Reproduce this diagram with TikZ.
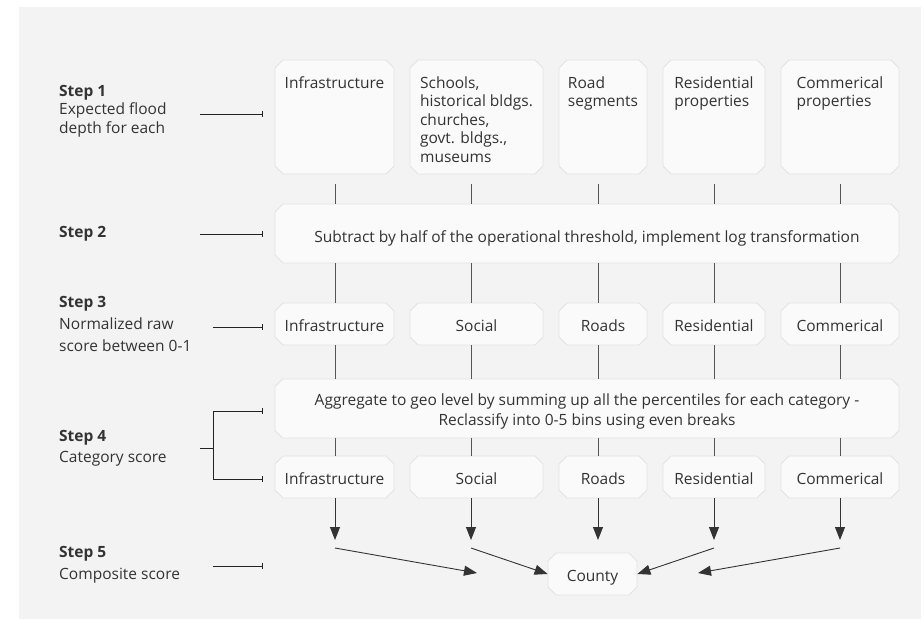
\documentclass[tikz,border=0pt]{standalone}
\usepackage{fontspec}
\setmainfont{Open Sans}
\usetikzlibrary{calc, arrows.meta, shapes.misc}
\definecolor{panel}{HTML}{F3F3F3}
\definecolor{boxfill}{HTML}{FAFAFA}
\definecolor{boxline}{HTML}{E2E2E2}
\definecolor{ink}{HTML}{333333}
\definecolor{linkgray}{HTML}{555555}
\definecolor{tickink}{HTML}{222222}
\newcommand{\rows}[1]{\begin{tabular}[t]{@{}l@{}}#1\end{tabular}}
\newcommand{\crows}[1]{\begin{tabular}[t]{@{}c@{}}#1\end{tabular}}

\begin{document}
\begin{tikzpicture}[x=1pt, y=-1pt,
  every node/.style={font=\fontsize{15.5}{18.5}\selectfont, text=ink, inner sep=0pt},
  box/.style={chamfered rectangle, chamfered rectangle xsep=4pt, chamfered rectangle ysep=4pt,
    draw=boxline, fill=boxfill, line width=0.8pt},
  tall/.style={box, minimum height=114pt, text height=0pt, text depth=58pt},
  flat/.style={box, minimum height=42pt, text height=14pt, text depth=0pt},
  wide/.style={box, minimum width=624pt, minimum height=59pt},
  steptext/.style={anchor=base west},
  link/.style={draw=linkgray, line width=0.9pt},
  arr/.style={draw=ink, line width=0.9pt, -{Triangle[length=13pt, width=10pt]}},
  tick/.style={draw=tickink, line width=0.9pt, -{Bar[width=5.5pt]}, shorten >=12pt},
  ]
\useasboundingbox (0,0) rectangle (924,619);
\fill[panel] (19,7) rectangle (921,619);

\node[tall, minimum width=119pt] (top1) at (334.5,117) {\rows{Infrastructure}};
\node[tall, minimum width=133pt] (top2) at (476.5,117) {\rows{Schools,\\historical bldgs.\\churches,\\govt. bldgs.,\\museums}};
\node[tall, minimum width=88pt] (top3) at (603,117) {\rows{Road\\segments}};
\node[tall, minimum width=102pt] (top4) at (714,117) {\rows{Residential\\properties}};
\node[tall, minimum width=118pt] (top5) at (840,117) {\rows{Commerical\\properties}};

\node[wide, text height=18pt, text depth=0pt] (sub) at (587,233.5)
  {Subtract by half of the operational threshold, implement log transformation};

\foreach \i/\x/\w/\t in {1/334.5/119/Infrastructure, 2/476.5/133/Social, 3/603/88/Roads,
    4/714/102/Residential, 5/840/118/Commerical}{
  \node[flat, minimum width=\w pt] (raw\i) at (\x,324) {\t};
  \node[flat, minimum width=\w pt] (cat\i) at (\x,477) {\t};
}

\node[wide, text height=0pt, text depth=7pt] (agg) at (587,408.5)
  {\crows{Aggregate to geo level by summing up all the percentiles for each category -\\[1.5pt]
  Reclassify into 0-5 bins using even breaks}};

\node[flat, minimum width=89pt] (county) at (592.5,574) {County};

\foreach \i/\x in {1/335, 2/471, 3/598, 4/714, 5/840}{
  \coordinate (c\i) at (\x,0);
  \coordinate (tip\i) at (\x,540);
  \coordinate (from\i) at (\x,548);
  \draw[link, shorten <=10pt] (c\i |- top\i.south) -- (c\i |- sub.north);
  \draw[link] (c\i |- sub.south) -- (c\i |- raw\i.north);
  \draw[link] (c\i |- raw\i.south) -- (c\i |- agg.north);
  \draw[link] (c\i |- agg.south) -- (c\i |- cat\i.north);
  \draw[arr] (c\i |- cat\i.south) -- (tip\i);
}
\coordinate (land1) at (477,573);
\coordinate (land5) at (698,573);
\draw[arr] (from1) -- (land1);
\draw[arr] (from2) -- (county.west);
\draw[arr] (from4) -- (county.east);
\draw[arr] (from5) -- (land5);

\node[steptext] (lab1) at (59,96) {\rows{\textbf{Step 1}\\Expected flood\\depth for each}};
\node[steptext] (lab2) at (59,237) {\textbf{Step 2}};
\node[steptext] (lab3) at (59,307.5) {\rows{\textbf{Step 3}\\[3.5pt]Normalized raw\\[3.5pt]score between 0-1}};
\node[steptext] (lab4) at (59,441) {\rows{\textbf{Step 4}\\[2.5pt]Category score}};
\node[steptext] (lab5) at (59,557) {\rows{\textbf{Step 5}\\[3.5pt]Composite score}};

\coordinate (k1) at (200,114);
\coordinate (k2) at (200,234);
\coordinate (k3) at (213,327);
\coordinate (k4) at (200,448);
\coordinate (b4u) at (213,411);
\coordinate (b4d) at (213,479);
\coordinate (k5) at (213,566);
\draw[tick] (k1) -- (k1 -| top1.west);
\draw[tick] (k2) -- (k2 -| sub.west);
\draw[tick] (k3) -- (k3 -| raw1.west);
\draw[draw=tickink, line width=0.9pt] (k4) -- (k4 -| b4u) (b4u) -- (b4d);
\draw[tick] (b4u) -- (b4u -| agg.west);
\draw[tick] (b4d) -- (b4d -| cat1.west);
\draw[tick] (k5) -- (k5 -| cat1.west);
\end{tikzpicture}
\end{document}
